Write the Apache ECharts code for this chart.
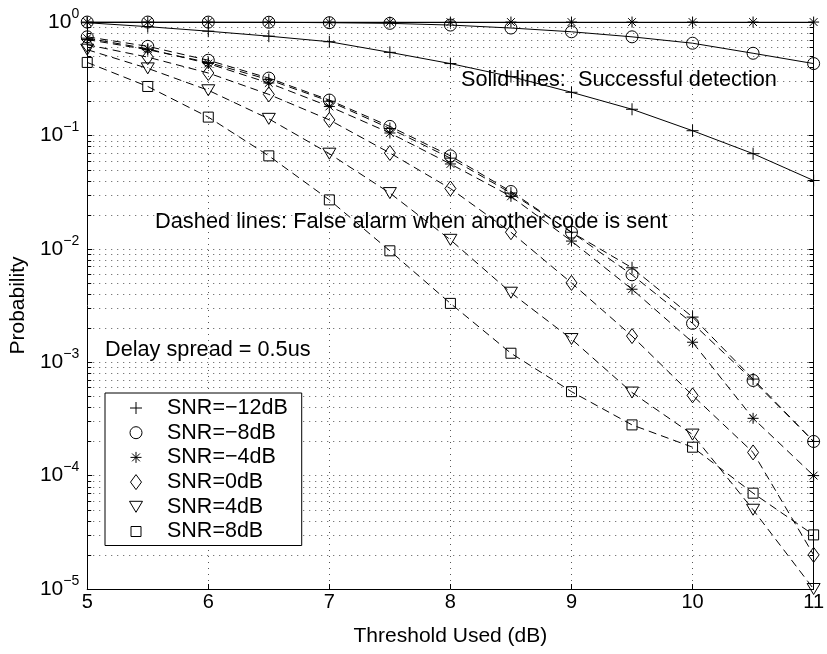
<!DOCTYPE html>
<html>
<head>
<meta charset="utf-8">
<script src="https://cdn.jsdelivr.net/npm/echarts@6/dist/echarts.min.js"></script>
<style>html,body{margin:0;padding:0;background:#fff;}#c{width:827px;height:654px;}</style>
</head>
<body>
<div id="c"></div>
<script>
// ---- data ----
var thresholds = [5, 5.5, 6, 6.5, 7, 7.5, 8, 8.5, 9, 9.5, 10, 10.5, 11];
var legendNames = ['SNR=\u221212dB', 'SNR=\u22128dB', 'SNR=\u22124dB', 'SNR=0dB', 'SNR=4dB', 'SNR=8dB'];
// successful detection (solid lines)
var detM12 = [0.985, 0.91, 0.83, 0.75, 0.67, 0.54, 0.43, 0.33, 0.24, 0.17, 0.11, 0.069, 0.040];
var detM8  = [0.999, 0.999, 0.998, 0.995, 0.986, 0.973, 0.94, 0.885, 0.82, 0.74, 0.65, 0.53, 0.43];
var detM4  = [0.999, 0.999, 0.999, 0.999, 0.999, 0.999, 0.999, 0.999, 0.999, 0.999, 0.999, 0.999, 0.999];
// false alarm (dashed lines)
var faM12 = [0.70, 0.57, 0.44, 0.31, 0.20, 0.115, 0.063, 0.031, 0.014, 0.0068, 0.0025, 0.00071, 0.0002];
var faM8  = [0.74, 0.61, 0.46, 0.32, 0.205, 0.12, 0.066, 0.032, 0.014, 0.0059, 0.0022, 0.00069, 0.0002];
var faM4  = [0.72, 0.58, 0.43, 0.29, 0.18, 0.105, 0.056, 0.029, 0.0117, 0.0044, 0.0015, 0.00032, 0.0001];
var fa0   = [0.63, 0.49, 0.355, 0.23, 0.137, 0.070, 0.034, 0.014, 0.005, 0.0017, 0.00051, 0.00016, 0.00002];
var fa4   = [0.57, 0.39, 0.25, 0.14, 0.069, 0.031, 0.012, 0.0041, 0.0016, 0.00054, 0.00023, 0.00005, 0.00001];
var fa8   = [0.44, 0.27, 0.145, 0.066, 0.027, 0.0096, 0.0033, 0.0012, 0.00055, 0.00028, 0.000178, 0.00007, 0.00003];
// log-axis minor grid positions
var minorMantissas = [2, 3, 4, 5, 6, 7, 8, 9];
var minorDecades = [1e-5, 1e-4, 1e-3, 1e-2, 1e-1];

var FONT = '"Liberation Sans", Arial, Helvetica, sans-serif';
var EXT = 'M0,0M16,16';
var SYM = {
  plus: 'path://M8,2L8,14M2,8L14,8' + EXT,
  circle: 'path://M2,8A6,6 0 1,1 14,8A6,6 0 1,1 2,8Z' + EXT,
  star: 'path://M8,2.5L8,13.5M2.5,8L13.5,8M4.1,4.1L11.9,11.9M4.1,11.9L11.9,4.1' + EXT,
  diamond: 'path://M8,0.5L13.5,8L8,15.5L2.5,8Z' + EXT,
  tri: 'path://M1.5,2.5L14.5,2.5L8,13.5Z' + EXT,
  square: 'path://M3,3L13,3L13,13L3,13Z' + EXT
};
var symList = [SYM.plus, SYM.circle, SYM.star, SYM.diamond, SYM.tri, SYM.square];

var minorVals = [];
minorDecades.forEach(function (d) { minorMantissas.forEach(function (m) { minorVals.push(m * d); }); });

function pairs(arr) { return thresholds.map(function (x, i) { return [x, arr[i]]; }); }

function mkSeries(name, arr, sym, dashed) {
  return {
    type: 'line', name: name, data: pairs(arr), symbol: sym, symbolSize: 16,
    symbolKeepAspect: true, showAllSymbol: true,
    lineStyle: { color: '#000', width: 1, type: dashed ? [8, 5] : 'solid' },
    itemStyle: { color: 'transparent', borderColor: '#000', borderWidth: 1 },
    emphasis: { disabled: true }, animation: false, z: 3
  };
}

var series = [
  mkSeries(legendNames[0], detM12, SYM.plus, false),
  mkSeries(legendNames[1], detM8, SYM.circle, false),
  mkSeries(legendNames[2], detM4, SYM.star, false),
  mkSeries(legendNames[0], faM12, SYM.plus, true),
  mkSeries(legendNames[1], faM8, SYM.circle, true),
  mkSeries(legendNames[2], faM4, SYM.star, true),
  mkSeries(legendNames[3], fa0, SYM.diamond, true),
  mkSeries(legendNames[4], fa4, SYM.tri, true),
  mkSeries(legendNames[5], fa8, SYM.square, true),
  {
    type: 'custom', silent: true, animation: false, z: 1,
    data: minorVals.map(function (v) { return [5, v]; }),
    encode: { x: 0, y: 1 },
    renderItem: function (params, api) {
      var p = api.coord([api.value(0), api.value(1)]);
      var y = Math.round(p[1]) + 0.5;
      var cs = params.coordSys;
      return {
        type: 'group', children: [
          { type: 'line', shape: { x1: cs.x, y1: y, x2: cs.x + cs.width, y2: y }, style: { stroke: '#555', lineWidth: 1, lineDash: [1, 5] } },
          { type: 'line', shape: { x1: cs.x, y1: y, x2: cs.x + 4, y2: y }, style: { stroke: '#000', lineWidth: 1 } },
          { type: 'line', shape: { x1: cs.x + cs.width - 4, y1: y, x2: cs.x + cs.width, y2: y }, style: { stroke: '#000', lineWidth: 1 } }
        ]
      };
    }
  }
];

function yLabel(v) {
  var e = Math.round(Math.log10(v));
  var s = e < 0 ? '\u2212' + (-e) : String(e);
  return '{b|10}{s|' + s + '}';
}

var chart = echarts.init(document.getElementById('c'), null, { renderer: 'canvas' });
chart.setOption({
  animation: false,
  backgroundColor: '#fff',
  textStyle: { fontFamily: FONT },
  grid: { left: 85, top: 22, width: 733, height: 567, containLabel: false },
  xAxis: [{
    type: 'value', min: 5, max: 11, interval: 1, position: 'bottom',
    name: 'Threshold Used (dB)', nameLocation: 'middle', nameGap: 37,
    nameTextStyle: { fontSize: 21, color: '#000', fontFamily: FONT },
    axisLine: { show: true, onZero: false, lineStyle: { color: '#000', width: 1 } },
    axisTick: { show: true, inside: true, length: 5, lineStyle: { color: '#000' } },
    axisLabel: { fontSize: 20, color: '#000', margin: 3, fontFamily: FONT },
    splitLine: { show: true, lineStyle: { color: '#555', width: 1, type: [1, 5] } }
  }, {
    type: 'value', min: 5, max: 11, interval: 1, position: 'top',
    axisLine: { show: true, onZero: false, lineStyle: { color: '#000', width: 1 } },
    axisTick: { show: true, inside: true, length: 5, lineStyle: { color: '#000' } },
    axisLabel: { show: false }, splitLine: { show: false }
  }],
  yAxis: [{
    type: 'log', logBase: 10, min: 0.00001, max: 1, position: 'left',
    name: 'Probability', nameLocation: 'middle', nameGap: 50, nameRotate: 90,
    nameTextStyle: { fontSize: 21, color: '#000', fontFamily: FONT },
    axisLine: { show: true, onZero: false, lineStyle: { color: '#000', width: 1 } },
    axisTick: { show: true, inside: true, length: 5, lineStyle: { color: '#000' } },
    axisLabel: {
      margin: 8, color: '#000', formatter: yLabel,
      rich: {
        b: { fontSize: 21, lineHeight: 30, verticalAlign: 'middle', fontFamily: FONT, color: '#000' },
        s: { fontSize: 14, lineHeight: 14, verticalAlign: 'top', fontFamily: FONT, color: '#000' }
      }
    },
    splitLine: { show: true, lineStyle: { color: '#555', width: 1, type: [1, 5] } }
  }, {
    type: 'log', logBase: 10, min: 0.00001, max: 1, position: 'right',
    axisLine: { show: true, onZero: false, lineStyle: { color: '#000', width: 1 } },
    axisTick: { show: true, inside: true, length: 5, lineStyle: { color: '#000' } },
    axisLabel: { show: false }, splitLine: { show: false }
  }],
  legend: {
    orient: 'vertical', left: 105, top: 393,
    itemWidth: 52, itemHeight: 16, itemGap: 2.7,
    padding: [4, 14, 3, 22.5],
    borderColor: '#000', borderWidth: 1, backgroundColor: '#fff',
    textStyle: { fontSize: 21.5, color: '#000', fontFamily: FONT },
    itemStyle: { color: 'transparent', borderColor: '#000', borderWidth: 1 },
    selectedMode: false,
    data: legendNames.map(function (n, i) { return { name: n, icon: symList[i] }; })
  },
  graphic: [
    { type: 'text', left: 461, top: 69, z: 10, style: { text: 'Solid lines:  Successful detection', fontSize: 21.7, fontFamily: FONT, fill: '#000' } },
    { type: 'text', left: 155, top: 211, z: 10, style: { text: 'Dashed lines: False alarm when another code is sent', fontSize: 21.8, fontFamily: FONT, fill: '#000' } },
    { type: 'text', left: 105, top: 339, z: 10, style: { text: 'Delay spread = 0.5us', fontSize: 21.7, fontFamily: FONT, fill: '#000' } }
  ],
  series: series
});
</script>
</body>
</html>
